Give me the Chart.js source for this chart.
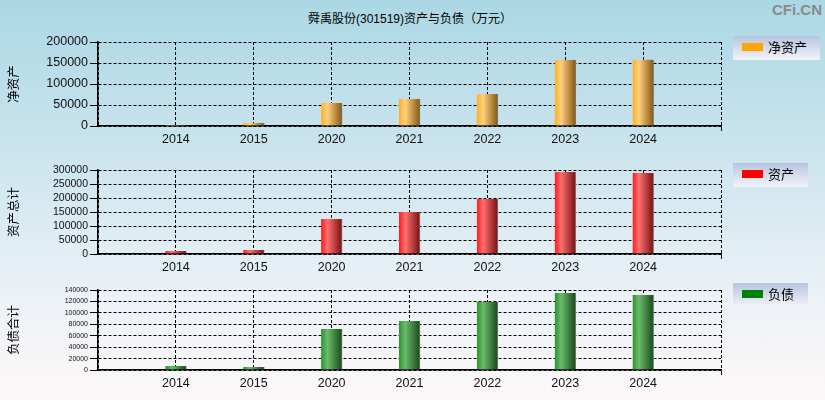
<!DOCTYPE html>
<html>
<head>
<meta charset="utf-8">
<script src="https://cdn.jsdelivr.net/npm/chart.js@4.4.0/dist/chart.umd.min.js"></script>
<style>
  body { margin: 0; }
  #page {
    position: relative; width: 825px; height: 400px; overflow: hidden;
    background: linear-gradient(to bottom, #abd7e5 0%, #cde5ee 40%, #eaf1f6 72%, #fdf8f8 100%);
    font-family: "Liberation Sans", Arial, "Noto Sans CJK SC", sans-serif;
  }
  .title { position: absolute; left: 0; width: 820px; top: 9px; text-align: center; font-size: 12px; color: #000;
    font-family: "Liberation Sans", "Noto Sans CJK SC", sans-serif; }
  .brand { position: absolute; right: 3px; top: 1px; font-size: 15px; font-weight: bold; color: #8a8a8a; }
  .panel { position: absolute; left: 0; }
  .legend { position: absolute; left: 733px; height: 24px;
    background: linear-gradient(to bottom, #b6c5df, #f3f3f8); font-size: 13px; color: #000;
    font-family: "Noto Sans CJK SC", sans-serif; }
  .legend i { position: absolute; left: 9px; top: 7px; width: 21px; height: 8px; }
  .legend span { position: absolute; left: 35px; top: 3px; line-height: 16px; }
</style>
</head>
<body>
<div id="page">
  <div class="title">舜禹股份(301519)资产与负债（万元）</div>
  <div class="brand">CFi.CN</div>

  <canvas class="panel" id="c1" width="825" height="120" style="top:30px"></canvas>
  <canvas class="panel" id="c2" width="825" height="125" style="top:150px"></canvas>
  <canvas class="panel" id="c3" width="825" height="125" style="top:275px"></canvas>

  <div class="legend" style="top:36px;width:87px"><i style="background:#ffa500"></i><span>净资产</span></div>
  <div class="legend" style="top:163px;width:75px"><i style="background:#ff0000"></i><span>资产</span></div>
  <div class="legend" style="top:283px;width:75px"><i style="background:#008000"></i><span>负债</span></div>
</div>

<script>
// values in 万元
const years = ['2014', '2015', '2020', '2021', '2022', '2023', '2024'];
const netAssets = [2500, 7000, 55000, 64000, 76000, 157000, 157500];
const totalAssets = [10500, 14300, 125000, 150000, 196000, 293000, 289000];
const totalLiabilities = [7000, 5300, 71700, 85700, 119500, 134700, 131300];

// [min, max, step] of each value axis
const netAxis = [0, 200000, 50000];
const assetAxis = [0, 300000, 50000];
const debtAxis = [0, 140000, 20000];

// empty slot on each side of the years
const xLabels = [''].concat(years, ['']);
function padded(arr) { return [null].concat(arr, [null]); }

function barFill(stops) {
    return function(context) {
        var chart = context.chart;
        if (!chart.chartArea || context.type !== 'data') return stops[1];
        var x = chart.scales.x.getPixelForValue(context.dataIndex);
        var g = chart.ctx.createLinearGradient(x - 10.5, 0, x + 10.5, 0);
        g.addColorStop(0, stops[0]);
        g.addColorStop(0.3, stops[1]);
        g.addColorStop(1, stops[2]);
        return g;
    };
}

function makeChart(id, values, axis, yTitle, colors, opts) {
    var ctx = document.getElementById(id).getContext('2d');
    return new Chart(ctx, {
        type: 'bar',
        data: {
            labels: xLabels,
            datasets: [{
                data: padded(values),
                backgroundColor: barFill(colors),
                borderColor: '#7c7c7c',
                borderWidth: {top: 0, left: 0, bottom: 0, right: 1},
                borderSkipped: false,
                barThickness: 21
            }]
        },
        options: {
            responsive: false,
            animation: false,
            events: [],
            layout: { padding: { top: opts.padTop, right: 104, left: 0, bottom: 0 } },
            plugins: { legend: { display: false }, tooltip: { enabled: false } },
            scales: {
                x: {
                    offset: false,
                    afterFit: function(scale) {
                        scale.height = opts.xHeight;
                        scale.paddingLeft = 0; scale.paddingRight = 0;
                    },
                    grid: {
                        offset: false,
                        color: '#000', lineWidth: 1, tickLength: 5,
                        tickColor: function(c) { return c.index === xLabels.length - 1 ? '#000' : 'rgba(0,0,0,0)'; }
                    },
                    border: { display: true, color: '#000', width: 1.5, dash: [3, 2] },
                    ticks: {
                        autoSkip: false, maxRotation: 0, padding: 1,
                        color: '#111',
                        font: { family: '"Liberation Sans", Arial, sans-serif', size: 12.5 }
                    }
                },
                y: {
                    min: axis[0], max: axis[1],
                    afterBuildTicks: function(scale) {
                        var t = [];
                        for (var v = axis[0]; v <= axis[1]; v += axis[2]) t.push({ value: v });
                        scale.ticks = t;
                    },
                    afterFit: function(scale) {
                        scale.width = 98;
                        scale.paddingTop = 0; scale.paddingBottom = 0;
                    },
                    grid: { color: '#000', lineWidth: 1, tickLength: 8, tickColor: '#000' },
                    border: { display: true, color: '#000', width: 1.5, dash: [3, 2] },
                    ticks: {
                        autoSkip: false, padding: 2, color: '#111',
                        callback: function(v) { return String(v); },
                        font: { family: '"Liberation Sans", Arial, sans-serif', size: opts.tickSize, lineHeight: 1 }
                    },
                    title: {
                        display: true, text: yTitle, color: '#000',
                        padding: { top: 6, bottom: 0 },
                        font: { family: '"Noto Sans CJK SC", sans-serif', size: 12.5 }
                    }
                }
            }
        }
    });
}

makeChart('c1', netAssets, netAxis, '净资产', ['#ffb01e', '#ffd07e', '#855710'],
    { padTop: 12, xHeight: 24, tickSize: 12.5 });
makeChart('c2', totalAssets, assetAxis, '资产总计', ['#ff1a1a', '#ff7070', '#781010'],
    { padTop: 20, xHeight: 21, tickSize: 10.5 });
makeChart('c3', totalLiabilities, debtAxis, '负债合计', ['#27962a', '#6cba6c', '#174a17'],
    { padTop: 15, xHeight: 30, tickSize: 7 });
</script>
</body>
</html>
